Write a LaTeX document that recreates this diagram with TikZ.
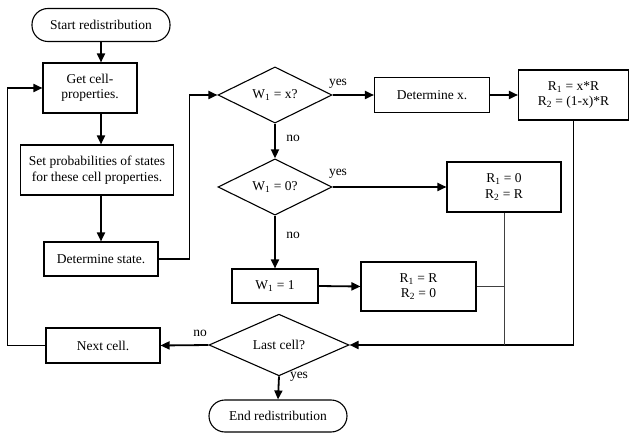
\documentclass[tikz,border=0pt]{standalone}
\usepackage{fontspec}
\setmainfont{Liberation Serif}
\usetikzlibrary{shapes.geometric,arrows.meta,calc}
\begin{document}
\begin{tikzpicture}[x=1pt,y=-1pt,
  every node/.style={font=\fontsize{13.5}{15.5}\selectfont},
  box/.style={draw, line width=1.1pt, rectangle, align=center, inner sep=0pt},
  pill/.style={box, rounded corners=16pt},
  dia/.style={draw, line width=1.1pt, diamond, inner sep=0pt, align=center},
  arr/.style={line width=1.8pt, -{Triangle[length=9pt,width=8pt]}},
  thinl/.style={line width=1pt, black!75},
  lbl/.style={inner sep=0pt}]
\useasboundingbox (0,0) rectangle (630,433);

\node[pill, minimum width=138, minimum height=33] (start) at (101,25) {Start redistribution};
\node[box, minimum width=94, minimum height=50] (getcell) at (90,88) {Get cell-\\properties.};
\node[box, minimum width=153, minimum height=50] (setprob) at (97,170) {Set probabilities of states\\for these cell properties.};
\node[box, minimum width=114, minimum height=34] (detstate) at (101,259) {Determine state.};

\node[dia, minimum width=114, minimum height=50] (d1) at (275,95) {W\textsubscript{1} = x?};
\node[box, minimum width=115, minimum height=35] (detx) at (432,95) {Determine x.};
\node[box, minimum width=110, minimum height=50] (rx) at (573.5,95) {R\textsubscript{1} = x*R\\R\textsubscript{2} = (1-x)*R};

\node[dia, minimum width=114, minimum height=50] (d2) at (275,187) {W\textsubscript{1} = 0?};
\node[box, minimum width=114, minimum height=50] (r0) at (504,187) {R\textsubscript{1} = 0\\R\textsubscript{2} = R};

\node[box, minimum width=86, minimum height=34] (w1) at (275,286) {W\textsubscript{1} = 1};
\node[box, minimum width=115, minimum height=49] (rr) at (418.5,286.5) {R\textsubscript{1} = R\\R\textsubscript{2} = 0};

\node[dia, minimum width=140, minimum height=49] (d3) at (279,345) {Last cell?};
\node[box, minimum width=114, minimum height=35] (next) at (103,345.5) {Next cell.};
\node[pill, minimum width=138, minimum height=32] (end) at (278,416) {End redistribution};

\node[lbl] (yes1) at (338,84) {yes};
\node[lbl] (no1) at (293,138) {no};
\node[lbl] (yes2) at (338,174) {yes};
\node[lbl] (no2) at (293,235) {no};
\node[lbl] (no3) at (200,333) {no};
\node[lbl] (yes3) at (299,377) {yes};

\draw[arr] (start.south) -- (getcell.north -| start.south);
\draw[arr] (getcell.south -| start.south) -- (setprob.north -| start.south);
\draw[arr] (setprob.south -| detstate.north) -- (detstate.north);
\draw[arr] (detstate.east) -- ++(31,0) |- (d1.west);
\draw[arr] (d1.east) -- (detx.west);
\draw[arr] (detx.east) -- (rx.west);
\draw[arr] (rx.south) |- (d3.east);
\draw[arr] (d1.south) -- (d2.north);
\draw[arr] (d2.east) -- (r0.west);
\draw[arr] (d2.south) -- (w1.north);
\draw[arr] (w1.east) -- (rr.west);
\draw[thinl] (r0.south) -- (r0.south |- d3.east);
\draw[thinl] (rr.east) -- (rr.east -| r0.south);
\draw[arr] (d3.west) -- (next.east);
\draw[arr] (next.west) -- ++(-38,0) |- (getcell.west);
\draw[arr] (d3.south) -- (end.north);
\end{tikzpicture}
\end{document}
